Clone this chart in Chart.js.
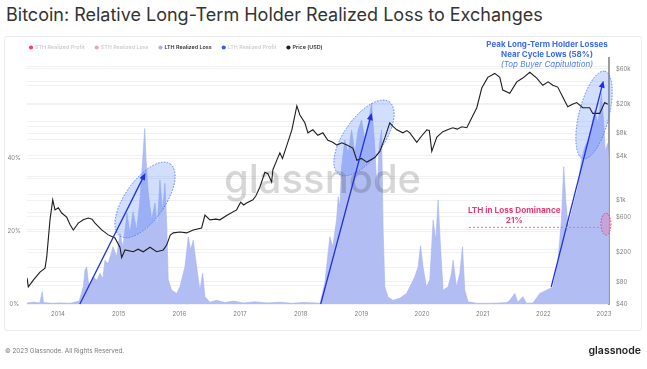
<!DOCTYPE html>
<html><head><meta charset="utf-8">
<script src="https://cdn.jsdelivr.net/npm/chart.js@4.4.1/dist/chart.umd.min.js"></script>
<style>
html,body{margin:0;padding:0;background:#fff;}
#wrap{position:relative;width:647px;height:369px;overflow:hidden;font-family:Inter,"Noto Sans",sans-serif;}
#title{position:absolute;left:6px;top:4px;font-size:18px;color:#333;white-space:nowrap;font-weight:400;}
#panel{position:absolute;left:4px;top:36px;width:638px;height:295px;border:1px solid #ebebeb;border-radius:3px;box-sizing:border-box;}
#c{position:absolute;left:0;top:0;width:647px;height:369px;}
#copy{position:absolute;left:5px;top:347px;font-size:6.3px;color:#777;white-space:nowrap;}
#logo{position:absolute;right:6px;top:344px;font-size:10.5px;color:#222;font-weight:600;}
</style></head><body>
<div id="wrap">
<div id="title">Bitcoin: Relative Long-Term Holder Realized Loss to Exchanges</div>
<div id="panel"></div>
<canvas id="c" width="647" height="369"></canvas>
<div id="copy">© 2023 Glassnode. All Rights Reserved.</div>
<div id="logo">glassnode</div>
</div>
<script>
// ---------- DATA ----------
const lthYears = [2013.49,2013.60,2013.70,2013.74,2013.76,2013.90,2014.03,2014.20,2014.35,2014.42,2014.445,2014.473,2014.50,2014.527,2014.582,2014.64,2014.692,2014.74,2014.774,2014.824,2014.87,2014.906,2014.967,2015.021,2015.071,2015.137,2015.186,2015.236,2015.297,2015.351,2015.395,2015.43,2015.45,2015.488,2015.544,2015.598,2015.636,2015.68,2015.725,2015.763,2015.791,2015.817,2015.873,2015.956,2016.01,2016.092,2016.147,2016.186,2016.229,2016.285,2016.339,2016.384,2016.422,2016.504,2016.614,2016.75,2016.90,2017.05,2017.25,2017.45,2017.65,2017.85,2018.05,2018.25,2018.32,2018.40,2018.427,2018.481,2018.53,2018.591,2018.618,2018.646,2018.674,2018.728,2018.783,2018.839,2018.893,2018.947,2019.003,2019.058,2019.112,2019.168,2019.222,2019.26,2019.293,2019.333,2019.359,2019.387,2019.437,2019.519,2019.634,2019.745,2019.827,2019.881,2019.936,2019.975,2020.018,2020.074,2020.128,2020.183,2020.227,2020.265,2020.305,2020.347,2020.43,2020.486,2020.512,2020.568,2020.623,2020.667,2020.705,2020.759,2020.90,2021.10,2021.30,2021.40,2021.446,2021.529,2021.578,2021.661,2021.722,2021.83,2021.941,2022.051,2022.16,2022.242,2022.298,2022.336,2022.369,2022.407,2022.463,2022.517,2022.572,2022.627,2022.682,2022.736,2022.792,2022.847,2022.901,2022.957,2022.995,2023.02,2023.06,2023.08];
const lthLoss = [0.3,0.5,0.3,3.4,0.4,0.2,0.3,0.2,0.8,5,9.3,10.2,6,4.7,7.5,6.5,8.4,7,12,11,13.5,15.7,13,19.4,15.7,24.9,19.4,25.3,20.3,28.5,39.5,48.1,40,30.4,23,27.7,21.2,34,25.7,33.1,22.1,6.6,3.8,2.9,4.7,10.2,18.4,14.8,17.5,10.2,3.8,8.4,2,0.5,1,0.4,0.8,0.3,0.6,0.3,0.5,0.2,0.4,0.3,0.2,6,10.2,18.4,15.7,23,29.4,26.7,37.6,44.9,41.3,47.7,41.3,47.7,50.4,44.9,49.5,55,43,30.4,43,47.7,20.3,4.7,2,1,1.6,2.9,5.6,7.5,10.2,16,10,4.7,6.6,23,17.5,28.5,15.7,3.8,4.7,8.4,12,4.7,8.4,15.7,3.8,0.6,0.2,0.2,0.3,0.4,1,2.9,0.5,2,0.2,0.3,2.9,3.8,4.7,12,23,37.6,28.5,21.2,24.9,28.5,32.1,39.5,43,44.9,48.6,53,49.5,57.7,49.5,42,44,40];

const priceYears = [2013.489,2013.511,2013.593,2013.703,2013.786,2013.814,2013.868,2013.913,2013.951,2014.005,2014.061,2014.143,2014.20,2014.252,2014.334,2014.417,2014.499,2014.56,2014.61,2014.72,2014.829,2014.939,2015.021,2015.049,2015.104,2015.241,2015.32,2015.405,2015.516,2015.626,2015.735,2015.791,2015.85,2015.90,2016.01,2016.12,2016.229,2016.367,2016.422,2016.504,2016.60,2016.669,2016.80,2016.944,2017.01,2017.06,2017.109,2017.213,2017.26,2017.328,2017.41,2017.46,2017.521,2017.542,2017.60,2017.657,2017.70,2017.77,2017.855,2017.937,2017.987,2018.069,2018.119,2018.201,2018.283,2018.366,2018.448,2018.53,2018.596,2018.68,2018.761,2018.86,2018.926,2019.00,2019.091,2019.222,2019.305,2019.387,2019.469,2019.52,2019.585,2019.684,2019.75,2019.799,2019.914,2019.98,2020.079,2020.12,2020.161,2020.244,2020.343,2020.42,2020.507,2020.58,2020.656,2020.738,2020.82,2020.903,2020.985,2021.084,2021.199,2021.282,2021.331,2021.446,2021.562,2021.661,2021.776,2021.891,2021.99,2022.08,2022.155,2022.237,2022.32,2022.402,2022.48,2022.55,2022.649,2022.764,2022.814,2022.929,2023.011,2023.061];
const priceUsd = [90,68,84,108,122,172,548,1020,747,797,677,595,470,400,494,548,580,560,494,400,343,312,234,170,215,203,220,203,234,203,215,250,340,365,376,365,400,425,636,548,560,548,640,747,950,870,925,1020,1150,1520,2400,2300,1780,2600,3400,4400,3700,5500,9000,19000,14300,11200,8200,9000,7600,8200,6500,6100,5600,6000,5600,5100,3500,3700,3300,3800,4600,7000,11200,10000,9000,8200,8800,8200,6100,7200,9000,8800,4600,7200,8500,9000,9600,9200,9900,9600,13100,17900,33000,46000,52000,46000,31000,28000,40000,45000,54000,45000,36000,40000,36000,34000,25000,18500,20000,21000,17900,17900,15000,15000,21000,20000];

const yearTicks = [2014,2015,2016,2017,2018,2019,2020,2021,2022,2023];
const pctLabelTicks = [0,20,40];
const priceGridTicks = [40,80,200,400,600,1000,2000,4000,8000,10000,20000,40000,60000];
const priceLabelValues = [40,80,200,600,1000,4000,8000,20000,60000];
const priceLabelTexts = ['$40','$80','$200','$600','$1k','$4k','$8k','$20k','$60k'];

const seriesNames = ['STH Realized Profit','STH Realized Loss','LTH Realized Loss','LTH Realized Profit','Price (USD)'];
const seriesColors = ['#f2416f','#f4a2ab','#a3b3f2','#3e5cf2','#1e1e1e'];
const seriesActive = [false,false,true,false,true];

// ---------- CHART ----------
const FONT = 'Inter, "Noto Sans", sans-serif';
function pts(xs, ys){ return xs.map((x,i)=>({x:x,y:ys[i]})); }

const annot = {
  ellipses: [
    {x:2015.434, y:28.5, a:44, b:20, rot:-55},
    {x:2019.044, y:45.5, a:44, b:20, rot:-55},
    {x:2022.835, y:51.8, a:45, b:15, rot:-76}
  ],
  arrows: [
    {x1:2014.36, y1:0, x2:2015.44, y2:35.9},
    {x1:2018.33, y1:0, x2:2019.17, y2:52.3},
    {x1:2022.13, y1:4.7, x2:2022.99, y2:61.2}
  ]
};

const plugin = {
  id:'extras',
  afterDatasetDraw(chart, args){
    if (args.index !== 2) return;
    const ctx = chart.ctx, xs = chart.scales.x, ys = chart.scales.yPct;
    ctx.save();
    ctx.font = '500 40px ' + FONT;
    ctx.fillStyle = 'rgba(0,0,0,0.16)';
    ctx.textAlign = 'left'; ctx.textBaseline = 'alphabetic';
    ctx.fillText('glassnode', 224, 193);
    annot.ellipses.forEach(e=>{
      const cx = xs.getPixelForValue(e.x), cy = ys.getPixelForValue(e.y);
      ctx.beginPath();
      ctx.ellipse(cx, cy, e.a, e.b, e.rot*Math.PI/180, 0, Math.PI*2);
      ctx.fillStyle = 'rgba(92,135,250,0.28)';
      ctx.fill();
      ctx.setLineDash([1.5,1.5]);
      ctx.lineWidth = 1;
      ctx.strokeStyle = '#4f7cf6';
      ctx.stroke();
      ctx.setLineDash([]);
    });
    ctx.restore();
  },
  afterDatasetsDraw(chart){
    const ctx = chart.ctx, xs = chart.scales.x, ys = chart.scales.yPct;
    ctx.save();
    const col = '#1f2fe3';
    annot.arrows.forEach(a=>{
      const x1 = xs.getPixelForValue(a.x1), y1 = ys.getPixelForValue(a.y1);
      const x2 = xs.getPixelForValue(a.x2), y2 = ys.getPixelForValue(a.y2);
      const ang = Math.atan2(y2-y1, x2-x1), hl = 7, hw = 3;
      ctx.strokeStyle = col; ctx.lineWidth = 1.3;
      ctx.beginPath(); ctx.moveTo(x1,y1);
      ctx.lineTo(x2 - hl*0.7*Math.cos(ang), y2 - hl*0.7*Math.sin(ang)); ctx.stroke();
      ctx.fillStyle = col; ctx.beginPath(); ctx.moveTo(x2,y2);
      ctx.lineTo(x2 - hl*Math.cos(ang) + hw*Math.sin(ang), y2 - hl*Math.sin(ang) - hw*Math.cos(ang));
      ctx.lineTo(x2 - hl*Math.cos(ang) - hw*Math.sin(ang), y2 - hl*Math.sin(ang) + hw*Math.cos(ang));
      ctx.closePath(); ctx.fill();
    });
    const pink = '#ea3a74';
    const yl = ys.getPixelForValue(21);
    ctx.setLineDash([2,2]); ctx.strokeStyle = '#f0729c'; ctx.lineWidth = 1;
    ctx.beginPath(); ctx.moveTo(xs.getPixelForValue(2020.774), yl); ctx.lineTo(xs.getPixelForValue(2022.95), yl); ctx.stroke();
    ctx.beginPath();
    ctx.ellipse(xs.getPixelForValue(2023.032), ys.getPixelForValue(21.9), 5, 11, 0, 0, Math.PI*2);
    ctx.fillStyle = 'rgba(232,120,170,0.35)'; ctx.fill();
    ctx.setLineDash([1.5,1.5]); ctx.strokeStyle = pink; ctx.stroke();
    ctx.setLineDash([]);
    ctx.restore();
  },
  afterDraw(chart){
    const ctx = chart.ctx, xs = chart.scales.x, ys = chart.scales.yPct;
    ctx.save();
    let lx = 29; const ly = 47.5;
    ctx.textBaseline = 'middle'; ctx.textAlign = 'left';
    chart.data.datasets.forEach((d,i)=>{
      ctx.fillStyle = seriesColors[i];
      ctx.beginPath(); ctx.arc(lx+2, ly, 2.1, 0, Math.PI*2); ctx.fill();
      ctx.fillStyle = seriesActive[i] ? '#333' : '#c9c9c9';
      ctx.font = (seriesActive[i] ? '600 ' : '500 ') + '5.4px ' + FONT;
      ctx.fillText(d.label, lx+6, ly);
      lx += 6 + ctx.measureText(d.label).width + 10;
    });
    const cx1 = xs.getPixelForValue(2022.06);
    ctx.textAlign = 'center'; ctx.textBaseline = 'middle';
    ctx.fillStyle = '#3a6cf3';
    ctx.font = 'bold 8px ' + FONT;
    ctx.fillText('Peak Long-Term Holder Losses', cx1, 45);
    ctx.fillText('Near Cycle Lows (58%)', cx1, 55);
    ctx.font = 'italic 8px ' + FONT;
    ctx.fillStyle = '#4d7df5';
    ctx.fillText('(Top Buyer Capitulation)', cx1, 65);
    const cx2 = xs.getPixelForValue(2021.52);
    ctx.fillStyle = '#ea3a74';
    ctx.font = 'bold 8.2px ' + FONT;
    ctx.fillText('LTH in Loss Dominance', cx2, ys.getPixelForValue(25.5));
    ctx.fillText('21%', cx2, ys.getPixelForValue(22.8));
    ctx.restore();
  }
};

new Chart(document.getElementById('c'), {
  type:'line',
  data:{ datasets:[
    {label:seriesNames[0], data:[], yAxisID:'yPct', borderColor:seriesColors[0], pointRadius:0, order:3},
    {label:seriesNames[1], data:[], yAxisID:'yPct', borderColor:seriesColors[1], pointRadius:0, order:3},
    {label:seriesNames[2], data:pts(lthYears,lthLoss), yAxisID:'yPct', borderColor:'#a6b4f1', backgroundColor:'#b2bef3', borderWidth:0.6, fill:'origin', pointRadius:0, tension:0, order:1},
    {label:seriesNames[3], data:[], yAxisID:'yPct', borderColor:seriesColors[3], pointRadius:0, order:3},
    {label:seriesNames[4], data:pts(priceYears,priceUsd), yAxisID:'yPrice', borderColor:'#1e1e1e', borderWidth:1.1, fill:false, pointRadius:0, tension:0, order:0}
  ]},
  options:{
    responsive:false, animation:false, devicePixelRatio:1,
    layout:{padding:{top:58,left:5,right:6,bottom:39}},
    plugins:{legend:{display:false}, tooltip:{enabled:false}, title:{display:false}},
    scales:{
      x:{type:'linear', min:2013.489, max:2023.082,
        afterBuildTicks:s=>{ s.ticks = yearTicks.map(v=>({value:v})); },
        afterFit:s=>{ s.height = 26; },
        grid:{display:false, drawTicks:false}, border:{display:false},
        ticks:{padding:7, color:'#808080', font:{size:6, family:FONT}, maxRotation:0, autoSkip:false, callback:v=>String(v)}},
      yPct:{type:'linear', position:'left', min:0, max:67.4,
        afterBuildTicks:s=>{ const t=[]; for(let v=0; v<=65; v+=5) t.push({value:v}); s.ticks=t; },
        afterFit:s=>{ s.width = 22; },
        grid:{color:'#f1f1f1', drawTicks:false, lineWidth:1}, border:{display:false},
        ticks:{padding:6, crossAlign:'center', color:'#808080', font:{size:6, family:FONT}, autoSkip:false,
          callback:v=> pctLabelTicks.includes(v) ? v+'%' : ''}},
      yPrice:{type:'logarithmic', position:'right', min:40, max:84000,
        afterBuildTicks:s=>{ s.ticks = priceGridTicks.map(v=>({value:v})); },
        afterFit:s=>{ s.width = 32; },
        grid:{color:'#f1f1f1', drawTicks:false, lineWidth:1}, border:{display:true, color:'#9c9c9c', width:2},
        ticks:{padding:7, color:'#808080', font:{size:6, family:FONT}, autoSkip:false,
          callback:v=>{ const k = priceLabelValues.indexOf(v); return k>=0 ? priceLabelTexts[k] : ''; }}}
    }
  },
  plugins:[plugin]
});
</script>
</body></html>
